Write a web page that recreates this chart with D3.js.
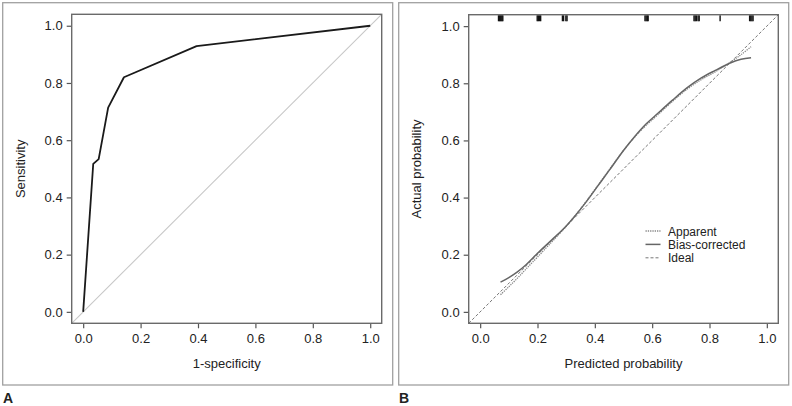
<!DOCTYPE html>
<html><head><meta charset="utf-8">
<script src="https://cdn.jsdelivr.net/npm/d3@7"></script>
<style>
html,body{margin:0;padding:0;background:#fff;}
svg text{font-family:"Liberation Sans",Arial,sans-serif;fill:#222;}
</style></head>
<body>
<svg id="c" width="792" height="406"></svg>
<script>
// ---- Data ----
const ticks = [0, 0.2, 0.4, 0.6, 0.8, 1.0];
const tickLabels = ["0.0", "0.2", "0.4", "0.6", "0.8", "1.0"];

// Panel A: ROC curve
const rocFpr = [0, 0.035, 0.054, 0.087, 0.142, 0.395, 1.0];
const rocTpr = [0, 0.517, 0.534, 0.714, 0.820, 0.929, 1.0];

// Panel B: calibration curves
const calX      = [0.071,0.10,0.13,0.16,0.20,0.25,0.29,0.33,0.37,0.41,0.45,0.50,0.54,0.576,0.62,0.67,0.72,0.77,0.82,0.87,0.91,0.945];
const apparentY = [0.060,0.088,0.118,0.150,0.192,0.245,0.288,0.335,0.387,0.442,0.497,0.565,0.613,0.650,0.690,0.736,0.778,0.812,0.840,0.872,0.900,0.928];
const biasY     = [0.104,0.120,0.140,0.165,0.205,0.252,0.290,0.335,0.385,0.440,0.495,0.565,0.615,0.655,0.695,0.740,0.783,0.818,0.845,0.870,0.884,0.889];
const rugValues = [0.064,0.067,0.070,0.073,0.076,0.079,0.199,0.203,0.207,0.211,0.287,0.291,0.299,0.303,
                   0.575,0.579,0.583,0.586,0.746,0.750,0.754,0.760,0.764,0.837,0.940,0.944,0.948,0.952];
const legendLabels = ["Apparent", "Bias-corrected", "Ideal"];

// ---- Drawing ----
const svg = d3.select("#c");
const dom = [-0.04, 1.04];
const FS = 13;

function panel(ox, plot, letter, xTitle, yTitle) {
  const g = svg.append("g");
  g.append("rect").attr("x", ox + 2.7).attr("y", 2.7).attr("width", 390).attr("height", 382.3)
    .attr("fill", "none").attr("stroke", "#a0a0a0").attr("stroke-width", 1.3);
  g.append("text").attr("x", ox + 3).attr("y", 403).attr("font-size", 14).attr("font-weight", "bold").text(letter);

  const x = d3.scaleLinear().domain(dom).range([plot.l, plot.r]);
  const y = d3.scaleLinear().domain(dom).range([plot.b, plot.t]);

  const ax = g.append("g").attr("transform", `translate(0,${plot.b})`)
    .call(d3.axisBottom(x).tickValues(ticks).tickFormat((d, i) => tickLabels[i]).tickSize(5).tickPadding(5));
  const ay = g.append("g").attr("transform", `translate(${plot.l},0)`)
    .call(d3.axisLeft(y).tickValues(ticks).tickFormat((d, i) => tickLabels[i]).tickSize(5).tickPadding(4));
  [ax, ay].forEach(a => {
    a.select(".domain").remove();
    a.selectAll("line").attr("stroke", "#555").attr("stroke-width", 1.2);
    a.selectAll("text").attr("font-size", FS).attr("fill", "#222")
      .attr("font-family", null).style("font-family", null);
  });
  ax.selectAll("text").attr("dy", "0.75em");

  g.append("text").attr("x", (x(0) + x(1)) / 2).attr("y", 368).attr("text-anchor", "middle")
    .attr("font-size", FS).text(xTitle);
  g.append("text").attr("transform", `translate(${ox + 25},${(y(0) + y(1)) / 2}) rotate(-90)`)
    .attr("text-anchor", "middle").attr("font-size", FS).text(yTitle);

  const clipId = "clip" + letter;
  g.append("clipPath").attr("id", clipId).append("rect")
    .attr("x", plot.l).attr("y", plot.t).attr("width", plot.r - plot.l).attr("height", plot.b - plot.t);
  const inner = g.append("g").attr("clip-path", `url(#${clipId})`);
  return {g, x, y, inner, box: () => g.append("rect").attr("x", plot.l).attr("y", plot.t)
    .attr("width", plot.r - plot.l).attr("height", plot.b - plot.t)
    .attr("fill", "none").attr("stroke", "#6a6a6a").attr("stroke-width", 1.4)};
}

// Panel A
{
  const p = panel(0, {l: 71.7, r: 381.7, t: 14.3, b: 323.3}, "A", "1-specificity", "Sensitivity");
  p.inner.append("line").attr("x1", p.x(dom[0])).attr("y1", p.y(dom[0])).attr("x2", p.x(dom[1])).attr("y2", p.y(dom[1]))
    .attr("stroke", "#c8c8c8").attr("stroke-width", 1.1);
  const line = d3.line().x(d => p.x(d[0])).y(d => p.y(d[1]));
  p.inner.append("path").datum(rocFpr.map((v, i) => [v, rocTpr[i]])).attr("d", line)
    .attr("fill", "none").attr("stroke", "#1a1a1a").attr("stroke-width", 1.8).attr("stroke-linejoin", "round");
  p.box();
}

// Panel B
{
  const p = panel(396, {l: 468.7, r: 778.3, t: 14.7, b: 323.3}, "B", "Predicted probability", "Actual probability");
  p.inner.append("line").attr("x1", p.x(dom[0])).attr("y1", p.y(dom[0])).attr("x2", p.x(dom[1])).attr("y2", p.y(dom[1]))
    .attr("stroke", "#777").attr("stroke-width", 1).attr("stroke-dasharray", "3,2");
  const line = d3.line().x(d => p.x(d[0])).y(d => p.y(d[1])).curve(d3.curveCatmullRom.alpha(0.5));
  p.inner.append("path").datum(calX.map((v, i) => [v, apparentY[i]])).attr("d", line)
    .attr("fill", "none").attr("stroke", "#888").attr("stroke-width", 1.3).attr("stroke-dasharray", "1.3,1");
  p.inner.append("path").datum(calX.map((v, i) => [v, biasY[i]])).attr("d", line)
    .attr("fill", "none").attr("stroke", "#666").attr("stroke-width", 1.5);
  p.inner.selectAll("line.rug").data(rugValues).enter().append("line").attr("class", "rug")
    .attr("x1", d => p.x(d)).attr("x2", d => p.x(d)).attr("y1", 15.3).attr("y2", 21.3)
    .attr("stroke", "#111").attr("stroke-width", 1.4);
  const styles = [
    {stroke: "#888", w: 1.3, dash: "1.3,1"},
    {stroke: "#666", w: 1.5, dash: null},
    {stroke: "#777", w: 1, dash: "3,2"}
  ];
  const lg = p.g.append("g");
  const gap = 13.4;
  legendLabels.forEach((lab, i) => {
    const yy = 231 + i * gap;
    lg.append("line").attr("x1", 645.5).attr("x2", 660.5).attr("y1", yy).attr("y2", yy)
      .attr("stroke", styles[i].stroke).attr("stroke-width", styles[i].w)
      .attr("stroke-dasharray", styles[i].dash);
    lg.append("text").attr("x", 668).attr("y", yy + 4.5).attr("font-size", 12).text(lab);
  });
  p.box();
}
</script>
</body></html>
